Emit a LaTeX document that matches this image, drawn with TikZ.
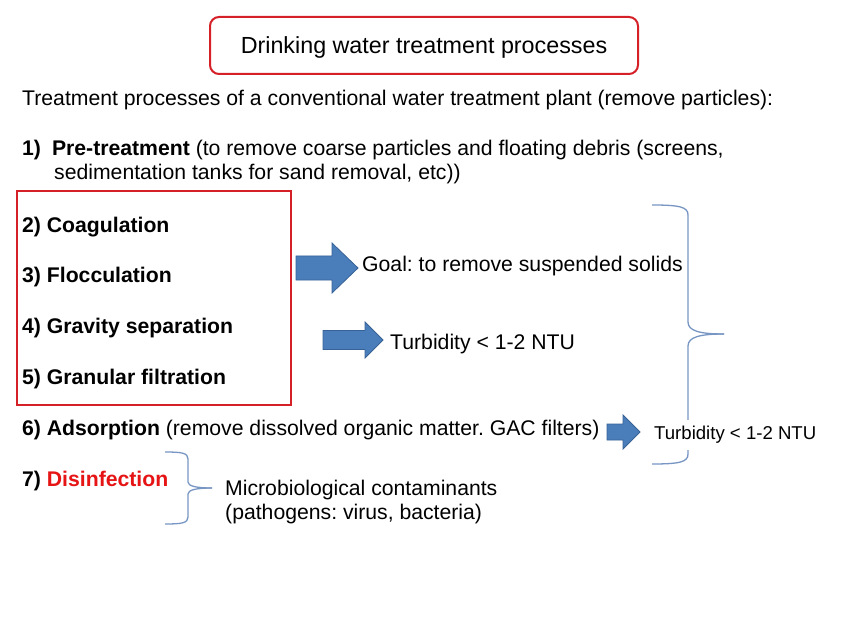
\documentclass[tikz,border=0pt]{standalone}
\usepackage{fontspec}
\setmainfont{Liberation Sans}
\frenchspacing
\definecolor{redline}{RGB}{214,32,40}
\definecolor{redtext}{RGB}{230,20,20}
\definecolor{arrowfill}{RGB}{74,126,187}
\definecolor{arrowdraw}{RGB}{56,98,150}
\definecolor{bracecol}{RGB}{120,150,195}
\newcommand\blockarr[6]{% x0, xbase, xtip, yc, shafthalf, headhalf
  \fill[arrowfill,draw=arrowdraw,line width=0.8pt]
    (#1,#4-#5) -- (#2,#4-#5) -- (#2,#4-#6) -- (#3,#4) -- (#2,#4+#6) -- (#2,#4+#5) -- (#1,#4+#5) -- cycle;}
\tikzset{
  txt/.style={anchor=west,inner sep=0pt,font=\fontsize{21.2}{25}\selectfont},
  boldtxt/.style={anchor=west,inner sep=0pt,font=\fontsize{21.2}{25}\selectfont\bfseries},
  smalltxt/.style={anchor=west,inner xsep=0pt,inner ysep=6pt,fill=white,font=\fontsize{18.6}{22}\selectfont},
  brace/.style={draw=bracecol,line width=1.3pt},
}
\begin{document}
\begin{tikzpicture}[x=1pt,y=-1pt]
\useasboundingbox[fill=white] (0,0) rectangle (848,636);
% title
\draw[redline,line width=2pt,rounded corners=9pt] (210,17) rectangle (638,74);
\node[inner sep=0pt,font=\fontsize{23.3}{27}\selectfont] (title) at (424,47) {Drinking water treatment processes};
\node[txt] (intro) at (22,100) {Treatment processes of a conventional water treatment plant (remove particles):};
\node[txt] (p1) at (22,150) {\textbf{1)}\hspace{11pt}\textbf{Pre-treatment} (to remove coarse particles and floating debris (screens,};
\node[txt] (p1b) at (54,174) {sedimentation tanks for sand removal, etc))};
% red box
\draw[redline,line width=2pt] (17,191) rectangle (291,405);
\node[boldtxt] (s2) at (22,227) {2) Coagulation};
\node[boldtxt] (s3) at (22,277) {3) Flocculation};
\node[boldtxt] (s4) at (22,328) {4) Gravity separation};
\node[boldtxt] (s5) at (22,379) {5) Granular filtration};
% arrows
\blockarr{296}{332}{358}{268}{12}{25}
\blockarr{323}{365}{383}{340}{9.5}{18}
\blockarr{607}{623}{640}{432}{8}{17}
\node[txt] (goal) at (362,266) {Goal: to remove suspended solids};
\node[txt] (turb1) at (390,344) {Turbidity < 1-2 NTU};
\node[txt] (s6) at (22,430) {\textbf{6) Adsorption} (remove dissolved organic matter. GAC filters)};
\node[txt] (s7) at (22,481) {\textbf{7) \textcolor{redtext}{Disinfection}}};
\node[txt] (micro1) at (225,490) {Microbiological contaminants};
\node[txt] (micro2) at (225,514) {(pathogens: virus, bacteria)};
% big brace
\draw[brace] (652,205) .. controls (680,205) and (688,207) .. (688,215) -- (688,322)
  .. controls (688,331) and (700,334) .. (724,334);
\draw[brace] (724,334) .. controls (700,334) and (688,337) .. (688,346) -- (688,454)
  .. controls (688,462) and (680,464) .. (652,464);
\node[smalltxt] (turb2) at (654,435) {Turbidity < 1-2 NTU};
% small brace
\draw[brace] (165,452) .. controls (182,452) and (188,453) .. (188,459) -- (188,482)
  .. controls (188,486) and (196,488) .. (212,488);
\draw[brace] (212,488) .. controls (196,488) and (188,490) .. (188,494) -- (188,517)
  .. controls (188,523) and (182,524) .. (165,524);
\end{tikzpicture}
\end{document}
